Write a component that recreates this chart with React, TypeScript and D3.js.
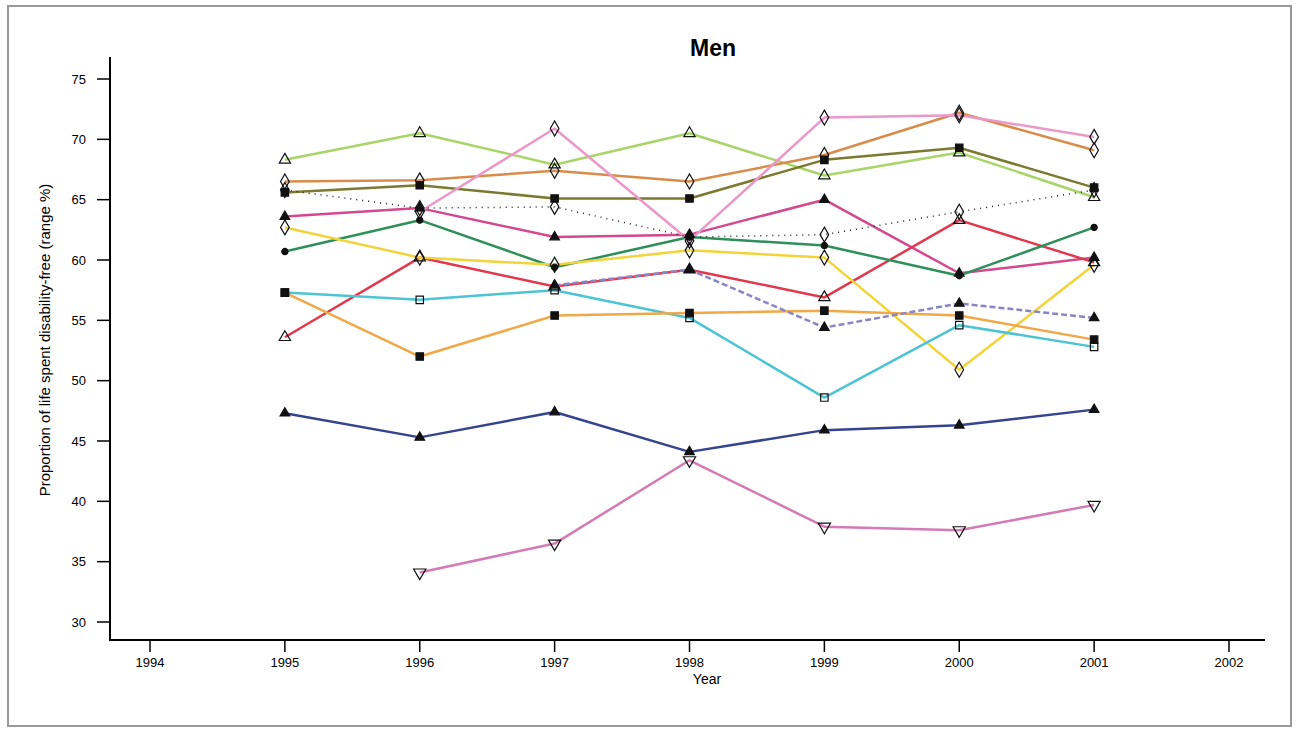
import React, { useEffect, useRef } from 'react';
import * as d3 from 'd3';

const years = [1995, 1996, 1997, 1998, 1999, 2000, 2001];
const yearTicks = [1994, 1995, 1996, 1997, 1998, 1999, 2000, 2001, 2002];
const valueTicks = [30, 35, 40, 45, 50, 55, 60, 65, 70, 75];

// one value per year, null = no survey that year
const lightGreen = [68.3, 70.5, 67.9, 70.5, 67.0, 68.9, 65.2];
const olive = [65.6, 66.2, 65.1, 65.1, 68.3, 69.3, 66.0];
const brown = [66.5, 66.6, 67.4, 66.5, 68.7, 72.2, 69.1];
const magenta = [63.6, 64.3, 61.9, 62.1, 65.0, 58.9, 60.2];
const red = [53.6, 60.2, 57.8, 59.2, 56.9, 63.3, 59.8];
const darkGreen = [60.7, 63.3, 59.4, 61.9, 61.2, 58.7, 62.7];
const yellow = [62.7, 60.2, 59.6, 60.8, 60.2, 50.9, 59.6];
const cyan = [57.3, 56.7, 57.5, 55.2, 48.6, 54.6, 52.8];
const orange = [57.3, 52.0, 55.4, 55.6, 55.8, 55.4, 53.4];
const purple = [null, null, 57.9, 59.2, 54.4, 56.4, 55.2];
const blue = [47.3, 45.3, 47.4, 44.1, 45.9, 46.3, 47.6];
const plum = [null, 34.1, 36.5, 43.4, 37.9, 37.6, 39.7];
const pink = [null, 64.0, 70.9, 61.6, 71.8, 72.0, 70.2];
const dotted = [65.8, 64.3, 64.4, 61.9, 62.1, 64.0, 65.8];

type Series = { values: (number | null)[]; color: string; symbol: string; dash?: string; width?: number };

const series: Series[] = [
  { values: lightGreen, color: '#a8d468', symbol: 'triOpen' },
  { values: olive, color: '#7a7a30', symbol: 'square' },
  { values: brown, color: '#d98c4a', symbol: 'diamondOpen' },
  { values: magenta, color: '#d4488e', symbol: 'triangle' },
  { values: red, color: '#e2384e', symbol: 'triOpen' },
  { values: darkGreen, color: '#2f8f5a', symbol: 'circle' },
  { values: yellow, color: '#f2d43a', symbol: 'diamondOpen' },
  { values: cyan, color: '#4cc4d4', symbol: 'squareOpen' },
  { values: orange, color: '#f0a848', symbol: 'square' },
  { values: purple, color: '#8a86c4', symbol: 'triangle', dash: '6,3' },
  { values: blue, color: '#34448e', symbol: 'triangle' },
  { values: plum, color: '#d47ab4', symbol: 'triDown' },
  { values: pink, color: '#eb98c8', symbol: 'diamondOpen' },
  { values: dotted, color: '#222', symbol: 'diamondOpen', dash: '1,5', width: 1.5 },
];

function App() {
  const ref = useRef<SVGSVGElement>(null);
  const W = 1300;
  const H = 735;

  useEffect(() => {
    const svg = d3.select(ref.current);
    svg.selectAll('*').remove();
    const font = '"Liberation Sans", Arial, sans-serif';

    const x = d3.scaleLinear().domain([1994, 2002]).range([150, 1229]);
    const y = d3.scaleLinear().domain([30, 75]).range([622, 79]);

    // outer frame
    svg.append('rect')
      .attr('x', 8).attr('y', 6).attr('width', 1283).attr('height', 720)
      .attr('fill', 'white').attr('stroke', '#999').attr('stroke-width', 2);

    svg.append('text')
      .attr('x', 713).attr('y', 56)
      .attr('text-anchor', 'middle')
      .style('font-family', font).style('font-size', '23px').style('font-weight', 'bold')
      .text('Men');

    // axes (L-shaped)
    svg.append('path')
      .attr('fill', 'none').attr('stroke', '#000').attr('stroke-width', 2)
      .attr('d', 'M110,57 V640 H1265');

    const yAxis = svg.append('g');
    yAxis.selectAll('line').data(valueTicks).join('line')
      .attr('x1', 97).attr('x2', 110)
      .attr('y1', d => y(d)).attr('y2', d => y(d))
      .attr('stroke', '#000').attr('stroke-width', 1.5);
    yAxis.selectAll('text').data(valueTicks).join('text')
      .attr('x', 86).attr('y', d => y(d) + 4.5)
      .attr('text-anchor', 'end')
      .style('font-family', font).style('font-size', '13px')
      .text(d => d);

    const xAxis = svg.append('g');
    xAxis.selectAll('line').data(yearTicks).join('line')
      .attr('x1', d => x(d)).attr('x2', d => x(d))
      .attr('y1', 640).attr('y2', 652)
      .attr('stroke', '#000').attr('stroke-width', 1.5);
    xAxis.selectAll('text').data(yearTicks).join('text')
      .attr('x', d => x(d)).attr('y', 667)
      .attr('text-anchor', 'middle')
      .style('font-family', font).style('font-size', '13px')
      .text(d => d);

    svg.append('text')
      .attr('x', 707).attr('y', 684)
      .attr('text-anchor', 'middle')
      .style('font-family', font).style('font-size', '14px')
      .text('Year');

    svg.append('text')
      .attr('transform', 'translate(50,340) rotate(-90)')
      .attr('text-anchor', 'middle')
      .style('font-family', font).style('font-size', '15px')
      .text('Proportion of life spent disability-free (range %)');

    const line = d3.line<number | null>()
      .defined(d => d != null)
      .x((_, i) => x(years[i]))
      .y(d => y(d as number));

    const shapes: Record<string, { type: d3.SymbolType; fill: boolean; rot?: number; size: number }> = {
      triOpen: { type: d3.symbolTriangle, fill: false, size: 55 },
      triangle: { type: d3.symbolTriangle, fill: true, size: 40 },
      triDown: { type: d3.symbolTriangle, fill: false, rot: 180, size: 65 },
      square: { type: d3.symbolSquare, fill: true, size: 55 },
      squareOpen: { type: d3.symbolSquare, fill: false, size: 55 },
      diamondOpen: { type: d3.symbolDiamond, fill: false, size: 65 },
      circle: { type: d3.symbolCircle, fill: true, size: 30 },
    };

    const plot = svg.append('g');
    series.forEach(s => {
      plot.append('path')
        .attr('d', line(s.values))
        .attr('fill', 'none')
        .attr('stroke', s.color)
        .attr('stroke-width', s.width ?? 2.5)
        .attr('stroke-dasharray', s.dash ?? null)
        .attr('stroke-linejoin', 'round');
    });

    series.forEach(s => {
      const sh = shapes[s.symbol];
      const pts = s.values.map((v, i) => ({ v, yr: years[i] })).filter(p => p.v != null);
      plot.append('g').selectAll('path').data(pts).join('path')
        .attr('transform', p => `translate(${x(p.yr)},${y(p.v as number)}) rotate(${sh.rot ?? 0})`)
        .attr('d', d3.symbol().type(sh.type).size(sh.size)())
        .attr('fill', sh.fill ? '#111' : 'none')
        .attr('stroke', '#111')
        .attr('stroke-width', 1.2);
    });
  }, []);

  return (
    <svg ref={ref} width={W} height={H}
      style={{ position: 'absolute', left: 0, top: 0, background: 'white' }} />
  );
}

export default App;
